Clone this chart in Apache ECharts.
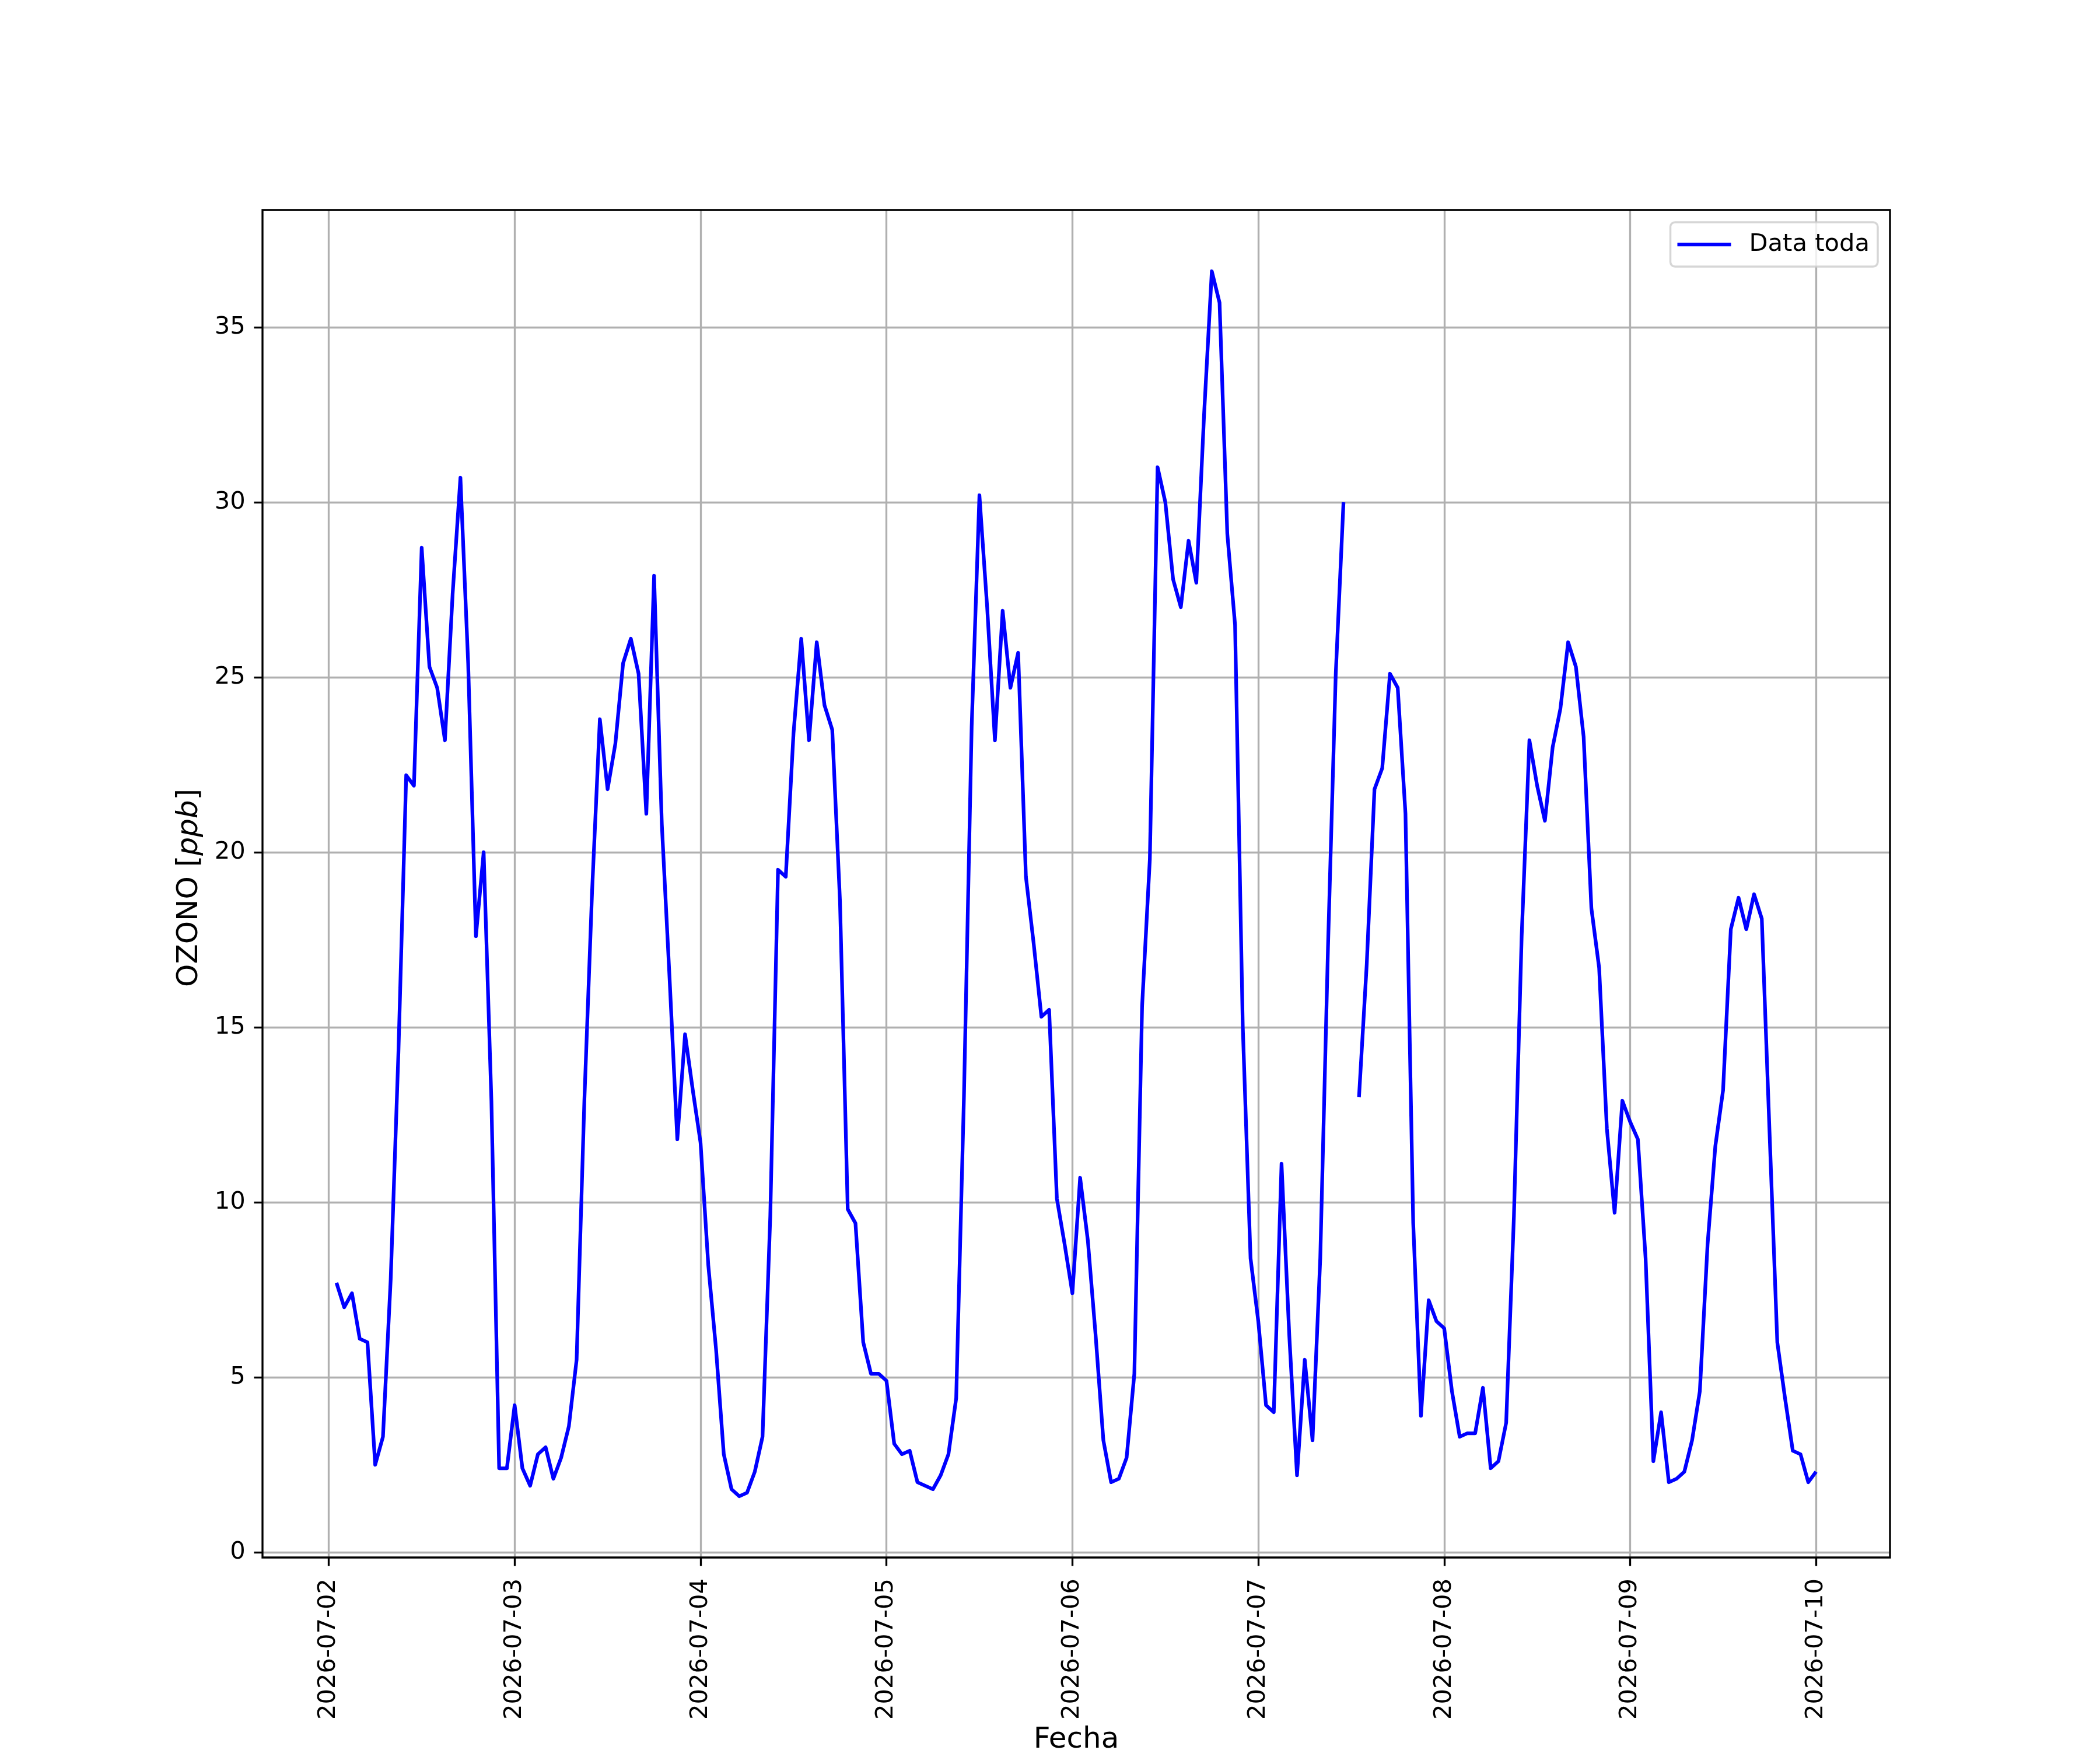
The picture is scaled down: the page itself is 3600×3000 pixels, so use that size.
<!DOCTYPE html>
<html>
<head>
<meta charset="utf-8">
<script src="https://cdn.jsdelivr.net/npm/echarts@6/dist/echarts.min.js"></script>
<style>
html,body{margin:0;padding:0;background:#ffffff;}
#chart{width:3600px;height:3000px;}
</style>
</head>
<body>
<div id="chart"></div>
<script>
// ---- data (hourly ozone, ppb) ----
// each array: hours 01:00 .. 24:00 (00:00 next day) of the named date
const dayLabels = ['2026-07-02','2026-07-03','2026-07-04','2026-07-05','2026-07-06','2026-07-07','2026-07-08','2026-07-09','2026-07-10'];
const firstHour = 1; // first sample at 2026-07-02 01:00 (hours since 2026-07-02 00:00)
const ozone_0702 = [7.7,7.0,7.4,6.1,6.0,2.5,3.3,7.8,14.3,22.2,21.9,28.7,25.3,24.7,23.2,27.4,30.7,25.4,17.6,20.0,12.9,2.4,2.4,4.2];
const ozone_0703 = [2.4,1.9,2.8,3.0,2.1,2.7,3.6,5.5,12.9,18.9,23.8,21.8,23.1,25.4,26.1,25.1,21.1,27.9,20.8,16.4,11.8,14.8,13.2,11.7];
const ozone_0704 = [8.2,5.8,2.8,1.8,1.6,1.7,2.3,3.3,9.6,19.5,19.3,23.4,26.1,23.2,26.0,24.2,23.5,18.6,9.8,9.4,6.0,5.1,5.1,4.9];
const ozone_0705 = [3.1,2.8,2.9,2.0,1.9,1.8,2.2,2.8,4.4,13.0,23.6,30.2,27.0,23.2,26.9,24.7,25.7,19.3,17.4,15.3,15.5,10.1,8.8,7.4];
const ozone_0706 = [10.7,8.9,6.2,3.2,2.0,2.1,2.7,5.1,15.6,19.8,31.0,30.0,27.8,27.0,28.9,27.7,32.5,36.6,35.7,29.1,26.5,15.0,8.4,6.6];
const ozone_0707 = [4.2,4.0,11.1,6.2,2.2,5.5,3.2,8.4,17.3,25.1,30.0,null,13.0,16.8,21.8,22.4,25.1,24.7,21.1,9.4,3.9,7.2,6.6,6.4];
const ozone_0708 = [4.6,3.3,3.4,3.4,4.7,2.4,2.6,3.7,9.6,17.6,23.2,21.9,20.9,23.0,24.1,26.0,25.3,23.3,18.4,16.7,12.1,9.7,12.9,12.3];
const ozone_0709 = [11.8,8.4,2.6,4.0,2.0,2.1,2.3,3.2,4.6,8.8,11.6,13.2,17.8,18.7,17.8,18.8,18.1,12.0,6.0,4.4,2.9,2.8,2.0,2.3];
const yTicks = [0,5,10,15,20,25,30,35];
const seriesName = 'Data toda';

// ---- build ----
const values = [].concat(ozone_0702,ozone_0703,ozone_0704,ozone_0705,ozone_0706,ozone_0707,ozone_0708,ozone_0709);
const points = values.map((v,i)=>[firstHour+i, v]);
const nums = values.filter(v=>v!==null);
const x0 = points[0][0], x1 = points[points.length-1][0];
const xPad = 0.05*(x1-x0);
const xMin = x0 - xPad, xMax = x1 + xPad;
const y0 = Math.min(...nums), y1 = Math.max(...nums);
const yPad = 0.05*(y1-y0);
const yMin = y0 - yPad, yMax = y1 + yPad;

// plot rectangle (pixels)
const L = 450, T = 360, W = 2790, H = 2310;
const FIG_W = 3600, FIG_H = 3000;
const pxH = W/(xMax-xMin);
const pxU = H/(yMax-yMin);
const dayHours0 = 0, dayHours1 = (dayLabels.length-1)*24;
const gVLeft = L + (dayHours0 - xMin)*pxH;
const gVWidth = (dayHours1 - dayHours0)*pxH;
const tickLo = yTicks[0], tickHi = yTicks[yTicks.length-1];
const gHTop = T + (yMax - tickHi)*pxU;
const gHHeight = (tickHi - tickLo)*pxU;

const FONT = 'DejaVu Sans';
const TICK_FS = 41.67;
const LABEL_FS = 50;
const GRIDC = '#b0b0b0';
const LW08 = 3.33;

const hidden = {axisLine:{show:false},axisTick:{show:false},axisLabel:{show:false},splitLine:{show:false}};
const fixedGrid = {containLabel:false, outerBoundsMode:'none'};

const option = {
  animation: false,
  backgroundColor: '#ffffff',
  grid: [
    Object.assign({left: L, top: T, width: W, height: H, show: true, borderColor: '#000000', borderWidth: LW08, backgroundColor: 'transparent', z: 3}, fixedGrid),
    Object.assign({left: gVLeft, top: T, width: gVWidth, height: H, show: false}, fixedGrid),
    Object.assign({left: L, top: gHTop, width: W, height: gHHeight, show: false}, fixedGrid)
  ],
  xAxis: [
    Object.assign({type:'value', gridIndex:0, min:xMin, max:xMax,
      name:'Fecha', nameLocation:'middle', nameGap:288,
      nameTextStyle:{fontFamily:FONT, fontSize:LABEL_FS, color:'#000'}}, hidden),
    {type:'value', gridIndex:1, min:dayHours0, max:dayHours1, interval:24, position:'bottom',
      axisLine:{show:false},
      axisTick:{show:true, inside:false, length:14.58, lineStyle:{color:'#000', width:LW08}},
      axisLabel:{show:true, rotate:90, margin:36, fontFamily:FONT, fontSize:TICK_FS, color:'#000',
        showMinLabel:true, showMaxLabel:true,
        formatter:(v)=>dayLabels[Math.round(v/24)]},
      splitLine:{show:true, lineStyle:{color:GRIDC, width:LW08}}},
    Object.assign({type:'value', gridIndex:2, min:0, max:1}, hidden)
  ],
  yAxis: [
    Object.assign({type:'value', gridIndex:0, min:yMin, max:yMax,
      name:'OZONO [{i|ppb}]', nameLocation:'middle', nameGap:100, nameRotate:90,
      nameTextStyle:{fontFamily:FONT, fontSize:LABEL_FS, color:'#000', padding:[0,14,0,0],
        rich:{i:{fontFamily:FONT, fontSize:LABEL_FS, fontStyle:'italic', color:'#000'}}}}, hidden),
    Object.assign({type:'value', gridIndex:1, min:0, max:1}, hidden),
    {type:'value', gridIndex:2, min:tickLo, max:tickHi, interval:5, position:'left',
      axisLine:{show:false},
      axisTick:{show:true, inside:false, length:14.58, lineStyle:{color:'#000', width:LW08}},
      axisLabel:{show:true, margin:29.2, fontFamily:FONT, fontSize:TICK_FS, color:'#000',
        showMinLabel:true, showMaxLabel:true},
      splitLine:{show:true, lineStyle:{color:GRIDC, width:LW08}}}
  ],
  legend: {
    show: true,
    data: [seriesName],
    right: FIG_W - 3219, top: 381,
    orient: 'horizontal',
    padding: [17, 14, 17, 12],
    itemWidth: 92, itemHeight: 6.25,
    icon: 'rect',
    backgroundColor: 'rgba(255,255,255,0.8)',
    borderColor: 'rgba(204,204,204,0.8)',
    borderWidth: 3.5,
    borderRadius: 8,
    textStyle: {fontFamily: FONT, fontSize: TICK_FS, color: '#000', padding: [0,0,0,26], lineHeight: 42},
    z: 10
  },
  series: [{
    name: seriesName,
    type: 'line',
    xAxisIndex: 0, yAxisIndex: 0,
    data: points,
    symbol: 'none',
    connectNulls: false,
    color: '#0000ff',
    itemStyle: {color: '#0000ff'},
    lineStyle: {color: '#0000ff', width: 6.25, join: 'round', cap: 'butt'},
    z: 5
  }]
};

const chart = echarts.init(document.getElementById('chart'), null, {renderer: 'canvas'});
chart.setOption(option);
</script>
</body>
</html>
